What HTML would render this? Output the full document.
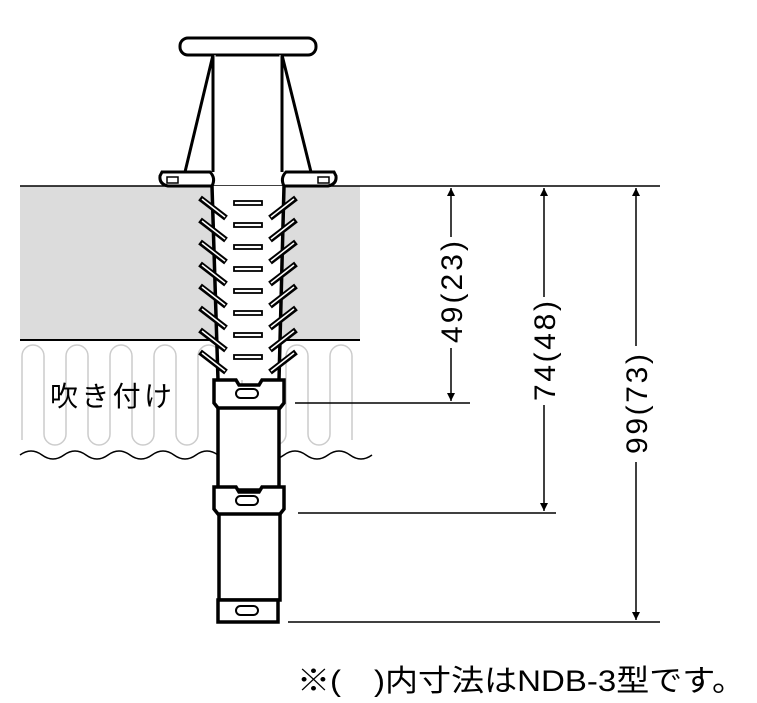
<!DOCTYPE html>
<html><head><meta charset="utf-8"><style>html,body{margin:0;padding:0;background:#fff}svg{display:block}</style></head>
<body>
<svg width="757" height="703" viewBox="0 0 757 703" xmlns="http://www.w3.org/2000/svg">
<defs>
<marker id="a" viewBox="0 0 10 10" refX="10" refY="5" markerWidth="8" markerHeight="14" orient="auto-start-reverse" markerUnits="userSpaceOnUse"><path d="M0,0 L10,5 L0,10 z" fill="#000"/></marker>
</defs>
<rect x="20" y="186" width="340" height="154" fill="#dcdcdc"/>
<line x1="20" y1="186" x2="660" y2="186" stroke="#000" stroke-width="1.5"/>
<line x1="20" y1="340" x2="360" y2="340" stroke="#000" stroke-width="2"/>
<path d="M22,440 V356 a11,11 0 0 1 22,0 V434 a11,11 0 0 0 22,0 V356 a11,11 0 0 1 22,0 V434 a11,11 0 0 0 22,0 V356 a11,11 0 0 1 22,0 V434 a11,11 0 0 0 22,0 V356 a11,11 0 0 1 22,0 V434 a11,11 0 0 0 22,0 V356 a11,11 0 0 1 22,0 V434 a11,11 0 0 0 22,0 V356 a11,11 0 0 1 22,0 V434 a11,11 0 0 0 22,0 V356 a11,11 0 0 1 22,0 V434 a11,11 0 0 0 22,0 V356 a11,11 0 0 1 22,0 V440" fill="none" stroke="#ccc" stroke-width="1.5"/>
<path d="M20,455 q11,-8 22,0 t22,0 t22,0 t22,0 t22,0 t22,0 t22,0 t22,0 t22,0 t22,0 t22,0 t22,0 t22,0 t22,0 t22,0 t22,0" fill="none" stroke="#000" stroke-width="1.5"/>
<rect x="180" y="38" width="136" height="17" rx="8" fill="#fff" stroke="#000" stroke-width="3"/>
<path d="M213,55 L185,172 M282,55 L311,172" stroke="#000" stroke-width="3" fill="none"/>
<path d="M213,55 V172 M282,55 V172" stroke="#000" stroke-width="3" fill="none"/>
<path d="M215,55 V172 M280,55 V172" stroke="#fff" stroke-width="1" fill="none"/>
<path d="M162,172 H210 Q216,178 212,186 H168 Q159,184 160,176 Z" fill="#fff" stroke="#000" stroke-width="3"/>
<path d="M334,172 H286 Q280,178 284,186 H328 Q337,184 336,176 Z" fill="#fff" stroke="#000" stroke-width="3"/>
<rect x="167" y="177" width="11" height="6" fill="#fff" stroke="#000" stroke-width="1.5"/>
<rect x="318" y="177" width="11" height="6" fill="#fff" stroke="#000" stroke-width="1.5"/>
<path d="M212,186 L218,380 H279 L284,186 Z" fill="#fff"/>
<path d="M212,186 L218,380 M284,186 L279,380" stroke="#000" stroke-width="3.5" fill="none"/>
<g id="f">
<line x1="200" y1="198" x2="226" y2="218" stroke="#000" stroke-width="6"/>
<line x1="202" y1="199" x2="225" y2="217" stroke="#fff" stroke-width="1.5"/>
<line x1="296" y1="198" x2="270" y2="218" stroke="#000" stroke-width="6"/>
<line x1="294" y1="199" x2="271" y2="217" stroke="#fff" stroke-width="1.5"/>
<rect x="234" y="201" width="28" height="4" fill="#fff" stroke="#000" stroke-width="1.8"/>
</g>
<use href="#f" y="22"/><use href="#f" y="44"/><use href="#f" y="66"/><use href="#f" y="88"/><use href="#f" y="110"/><use href="#f" y="132"/><use href="#f" y="154"/>
<rect x="218" y="405" width="61" height="85" fill="#fff" stroke="#000" stroke-width="3.5"/>
<path d="M214,380 H236 L239,385 H259 L262,380 H284 V403 L280,408 H218 L214,403 Z" fill="#fff" stroke="#000" stroke-width="3.5"/>
<rect x="236" y="389" width="22" height="9" rx="4.5" fill="#fff" stroke="#000" stroke-width="2"/>
<rect x="219" y="512" width="61" height="88" fill="#fff" stroke="#000" stroke-width="3.5"/>
<path d="M214,487 H236 L239,492 H259 L262,487 H284 V509 L280,514 H218 L214,509 Z" fill="#fff" stroke="#000" stroke-width="3.5"/>
<rect x="236" y="496" width="22" height="9" rx="4.5" fill="#fff" stroke="#000" stroke-width="2"/>
<rect x="218" y="600" width="60" height="22" fill="#fff" stroke="#000" stroke-width="3.5"/>
<rect x="236" y="606" width="22" height="9" rx="4.5" fill="#fff" stroke="#000" stroke-width="2"/>
<line x1="295" y1="403" x2="470" y2="403" stroke="#000" stroke-width="1.5"/>
<line x1="298" y1="513" x2="556" y2="513" stroke="#000" stroke-width="1.5"/>
<line x1="288" y1="622" x2="660" y2="622" stroke="#000" stroke-width="1.5"/>
<line x1="451" y1="188" x2="451" y2="237" stroke="#000" stroke-width="1.5" marker-start="url(#a)"/>
<line x1="451" y1="348" x2="451" y2="401" stroke="#000" stroke-width="1.5" marker-end="url(#a)"/>
<line x1="544" y1="188" x2="544" y2="297" stroke="#000" stroke-width="1.5" marker-start="url(#a)"/>
<line x1="544" y1="405" x2="544" y2="511" stroke="#000" stroke-width="1.5" marker-end="url(#a)"/>
<line x1="636" y1="188" x2="636" y2="346" stroke="#000" stroke-width="1.5" marker-start="url(#a)"/>
<line x1="636" y1="462" x2="636" y2="620" stroke="#000" stroke-width="1.5" marker-end="url(#a)"/>
<g font-family="Liberation Sans, sans-serif" font-size="30" fill="#000" text-anchor="middle">
<text transform="translate(462,292) rotate(-90)" textLength="102">49(23)</text>
<text transform="translate(555,351) rotate(-90)" textLength="100">74(48)</text>
<text transform="translate(647,404) rotate(-90)" textLength="100">99(73)</text>
</g>
<text x="50" y="406" font-family="Liberation Sans, 'Noto Sans CJK JP', sans-serif" font-size="28" fill="#000" textLength="122">吹き付け</text>
<text x="297" y="691" font-family="Liberation Sans, 'Noto Sans CJK JP', sans-serif" font-size="30" fill="#000" textLength="448" lengthAdjust="spacingAndGlyphs">※(　)内寸法はNDB-3型です。</text>
</svg>
</body></html>
